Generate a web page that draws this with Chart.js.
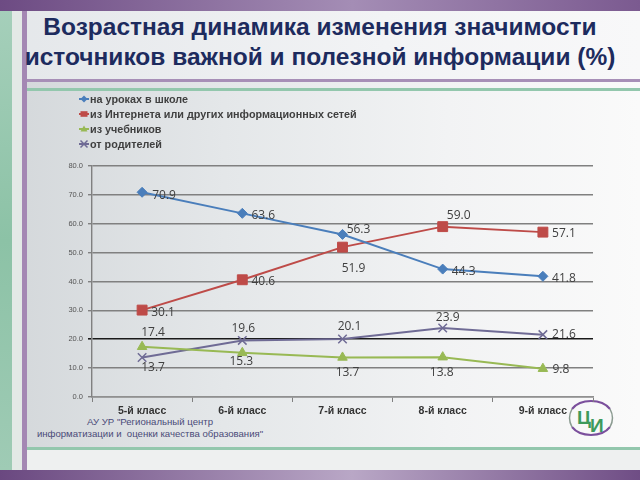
<!DOCTYPE html>
<html>
<head>
<meta charset="utf-8">
<script src="https://cdn.jsdelivr.net/npm/chart.js@4.4.1/dist/chart.umd.min.js"></script>
<style>
  body { margin: 0; }
  #page {
    position: relative; width: 640px; height: 480px; overflow: hidden;
    background: linear-gradient(90deg, #d3d7da 0%, #e4e7e9 35%, #f2f3f4 70%, #fafafa 100%);
    font-family: "Liberation Sans", Arial, sans-serif;
  }
  .band { position: absolute; }
  #title {
    position: absolute; left: 0; top: 12px; width: 640px; text-align: center;
    font-weight: bold; font-size: 24.5px; line-height: 30px; color: #1d2b5e;
  }
  #org {
    position: absolute; left: 30px; top: 416px; width: 240px; text-align: center;
    font-size: 9.6px; line-height: 12px; color: #4a4a78;
  }
  #myChart { position: absolute; left: 0; top: 0; }
  #logo { position: absolute; left: 566px; top: 393px; }
</style>
</head>
<body>
<div id="page">
  <!-- frame of the slide -->
  <div class="band" style="left:0;top:0;width:640px;height:11px;background:linear-gradient(90deg,#6d4b83,#a48db5 55%,#7b5a90);"></div>
  <div class="band" style="left:0;top:11px;width:640px;height:68px;background:linear-gradient(90deg,#e4e7ea,#f2f3f5 60%,#f8f8f9);"></div>
  <div class="band" style="left:0;top:79px;width:640px;height:3px;background:#a78fb7;"></div>
  <div class="band" style="left:0;top:88px;width:640px;height:3px;background:#93c7ad;"></div>
  <div class="band" style="left:0;top:447px;width:640px;height:3px;background:#93c7ad;"></div>
  <div class="band" style="left:0;top:450px;width:640px;height:20px;background:#eef0f0;"></div>
  <div class="band" style="left:0;top:11px;width:12px;height:459px;background:linear-gradient(180deg,#a5cfba,#8cc2a6 50%,#9fcbb5);"></div>
  <div class="band" style="left:12px;top:11px;width:10px;height:459px;background:#e3e9e6;"></div>
  <div class="band" style="left:22px;top:11px;width:5px;height:459px;background:#a487b3;"></div>
  <div class="band" style="left:0;top:470px;width:640px;height:10px;background:linear-gradient(90deg,#6a4880,#b9a7c6 55%,#6f4d85);"></div>

  <div id="title">Возрастная динамика изменения значимости<br>источников важной и полезной информации (%)</div>
  <div id="org">АУ УР "Региональный центр<br>информатизации и&nbsp; оценки качества образования"</div>

  <svg id="logo" width="50" height="50" viewBox="0 0 50 50">
    <path d="M6 16 A22 16 0 0 1 44 16" fill="none" stroke="#7b4f9c" stroke-width="2"/>
    <path d="M6 34 A22 16 0 0 0 44 34" fill="none" stroke="#7b4f9c" stroke-width="2"/>
    <path d="M6 16 Q1 25 6 34" fill="none" stroke="#8a9a90" stroke-width="1.5"/>
    <path d="M44 16 Q49 25 44 34" fill="none" stroke="#8a9a90" stroke-width="1.5"/>
    <text x="11" y="31" font-family="Liberation Sans" font-weight="bold" font-size="19" fill="#3d9a5c">Ц</text>
    <text x="24" y="39" font-family="Liberation Sans" font-weight="bold" font-size="19" fill="#3d9a5c">И</text>
  </svg>

  <canvas id="myChart" width="640" height="480"></canvas>
</div>

<script>
// chart data
const classes = ['5-й класс', '6-й класс', '7-й класс', '8-й класс', '9-й класс'];
const seriesNames = [
    'на уроках в школе',
    'из Интернета или других информационных сетей',
    'из учебников',
    'от родителей'
];
const school = [70.9, 63.6, 56.3, 44.3, 41.8];
const internet = [30.1, 40.6, 51.9, 59.0, 57.1];
const textbooks = [17.4, 15.3, 13.7, 13.8, 9.8];
const parents = [13.7, 19.6, 20.1, 23.9, 21.6];
const yTicks = [0, 10, 20, 30, 40, 50, 60, 70, 80];

// look of each series
const colors = ['#4a7ebb', '#be4b48', '#98b954', '#6f6b95'];
const markers = ['rectRot', 'rect', 'triangle', 'crossRot'];
const markerSizes = [5, 7, 5.5, 6];

// where each value label sits, relative to its point (dx, dy of text centre)
const labelOffsets = [
    [[22, 3], [21, 2], [16, -5], [21, 2], [21, 2]],
    [[21, 2], [21, 2], [11, 21], [16, -11], [21, 1]],
    [[11, -14], [-1, 9], [5, 15], [-1, 15], [18, 1]],
    [[11, 10], [1, -12], [7, -12], [5, -10], [21, 0]]
];

const values = [school, internet, textbooks, parents];

// value labels next to the points
const valueLabels = {
    id: 'valueLabels',
    afterDatasetsDraw(chart) {
        const ctx = chart.ctx;
        ctx.save();
        ctx.font = '12px "Open Sans", "Liberation Sans", sans-serif';
        ctx.fillStyle = '#404040';
        ctx.textAlign = 'center';
        ctx.textBaseline = 'middle';
        chart.data.datasets.forEach((ds, d) => {
            const meta = chart.getDatasetMeta(d);
            meta.data.forEach((pt, i) => {
                const off = labelOffsets[d][i];
                ctx.fillText(ds.data[i].toFixed(1), pt.x + off[0], pt.y + off[1]);
            });
        });
        ctx.restore();
    }
};

// small marker for the legend
function drawMarker(ctx, style, x, y, r, color) {
    ctx.fillStyle = color;
    ctx.strokeStyle = color;
    ctx.lineWidth = 1.5;
    ctx.beginPath();
    if (style === 'rectRot') {
        ctx.moveTo(x, y - r); ctx.lineTo(x + r, y); ctx.lineTo(x, y + r); ctx.lineTo(x - r, y);
        ctx.closePath(); ctx.fill();
    } else if (style === 'rect') {
        ctx.rect(x - r, y - r * 0.8, 2 * r, 1.6 * r); ctx.fill();
    } else if (style === 'triangle') {
        ctx.moveTo(x, y - r); ctx.lineTo(x + r, y + r * 0.7); ctx.lineTo(x - r, y + r * 0.7);
        ctx.closePath(); ctx.fill();
    } else {
        ctx.moveTo(x - r, y - r); ctx.lineTo(x + r, y + r);
        ctx.moveTo(x + r, y - r); ctx.lineTo(x - r, y + r);
        ctx.stroke();
    }
}

// vertical legend in the top left corner
const listLegend = {
    id: 'listLegend',
    afterDraw(chart) {
        const ctx = chart.ctx;
        ctx.save();
        chart.data.datasets.forEach((ds, d) => {
            const y = 99 + d * 15;
            ctx.strokeStyle = colors[d];
            ctx.lineWidth = 2;
            ctx.beginPath();
            ctx.moveTo(79, y); ctx.lineTo(89, y);
            ctx.stroke();
            drawMarker(ctx, markers[d], 84, y, 3.5, colors[d]);
            ctx.font = 'bold 10.8px "Liberation Sans", Arial, sans-serif';
            ctx.fillStyle = '#404040';
            ctx.textAlign = 'left';
            ctx.textBaseline = 'middle';
            ctx.fillText(ds.label, 90, y + 1);
        });
        ctx.restore();
    }
};

const datasets = values.map((v, d) => ({
    label: seriesNames[d],
    data: v,
    borderColor: colors[d],
    backgroundColor: colors[d],
    borderWidth: 2,
    pointStyle: markers[d],
    pointRadius: markerSizes[d],
    pointBorderWidth: d === 3 ? 1.5 : 1,
    fill: false,
    tension: 0
}));

const ctx = document.getElementById('myChart').getContext('2d');
const chartJS = new Chart(ctx, {
    type: 'line',
    data: {
        labels: classes,
        datasets: datasets
    },
    options: {
        responsive: false,
        animation: false,
        devicePixelRatio: 1,
        layout: {
            padding: { left: 50, right: 47, top: 166, bottom: 0 }
        },
        plugins: {
            legend: { display: false },
            title: { display: false },
            tooltip: { enabled: false }
        },
        scales: {
            x: {
                offset: true,
                afterFit: s => { s.height = 83; },
                grid: {
                    offset: true,
                    drawOnChartArea: false,
                    drawTicks: true,
                    tickLength: 5,
                    color: '#808080'
                },
                border: { display: true, color: '#909090', width: 1.5 },
                ticks: {
                    padding: 3,
                    color: '#333',
                    font: { family: '"Liberation Sans", Arial, sans-serif', size: 10.5, weight: 'bold' }
                }
            },
            y: {
                min: 0,
                max: 80,
                afterFit: s => { s.width = 42; },
                afterBuildTicks: s => { s.ticks = yTicks.map(v => ({ value: v })); },
                grid: {
                    color: c => (c.tick && c.tick.value === 20 ? '#1a1a1a' : '#808080'),
                    lineWidth: c => (c.tick && c.tick.value === 20 ? 1.6 : 1.4),
                    tickLength: 4
                },
                border: { display: true, color: '#808080', width: 1.4 },
                ticks: {
                    padding: 5,
                    color: '#555',
                    font: { family: '"Liberation Sans", Arial, sans-serif', size: 7.5 },
                    callback: v => v.toFixed(1)
                }
            }
        }
    },
    plugins: [valueLabels, listLegend]
});
</script>
</body>
</html>
